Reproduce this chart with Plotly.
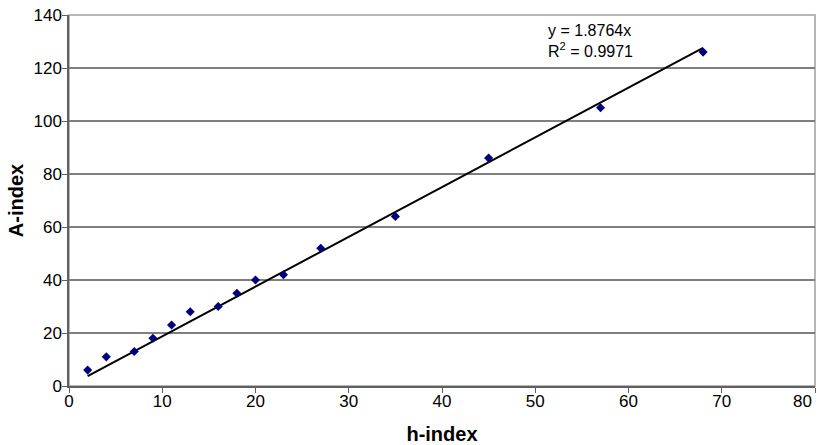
import plotly.graph_objects as go

h_index = [2, 4, 7, 9, 11, 13, 16, 18, 20, 23, 27, 35, 45, 57, 68]
a_index = [6, 11, 13, 18, 23, 28, 30, 35, 40, 42, 52, 64, 86, 105, 126]
slope = 1.8764
r2 = 0.9971

x_ticks = [0, 10, 20, 30, 40, 50, 60, 70, 80]
x_tick_labels = ["0", "10", "20", "30", "40", "50", "60", "70", ""]
last_x_label = "80"
y_ticks = [0, 20, 40, 60, 80, 100, 120, 140]

trend_x = [min(h_index), max(h_index)]
trend_y = [slope * v for v in trend_x]

font = "Liberation Sans, Arial, sans-serif"

fig = go.Figure()
fig.add_trace(go.Scatter(x=trend_x, y=trend_y, mode="lines",
                         line=dict(color="black", width=2), showlegend=False,
                         hoverinfo="skip"))
fig.add_trace(go.Scatter(x=h_index, y=a_index, mode="markers",
                         marker=dict(symbol="diamond", size=7, color="#00007f"),
                         showlegend=False))

fig.add_annotation(x=0.639, y=0.987, xref="paper", yref="paper",
                   xanchor="left", yanchor="top", align="left", showarrow=False,
                   text=f"y = {slope}x<br>R<sup>2</sup> = {r2}",
                   font=dict(family=font, size=16, color="black"))

# last x tick label, pulled inside the figure edge as in the original
fig.add_annotation(x=x_ticks[-1], y=0, xref="x", yref="paper",
                   xanchor="right", yanchor="top", showarrow=False,
                   xshift=-1, yshift=-4, text=last_x_label,
                   font=dict(family=font, size=17, color="black"))

fig.add_shape(type="rect", xref="paper", yref="paper", x0=0, y0=0, x1=1, y1=1,
              line=dict(color="#a0a0a0", width=1.5), layer="below")

fig.update_layout(
    width=822, height=445,
    margin=dict(l=69, r=7, t=15, b=59),
    plot_bgcolor="white", paper_bgcolor="white",
    font=dict(family=font, size=17, color="black"),
)
fig.update_xaxes(range=[0, 80], tickvals=x_ticks, ticktext=x_tick_labels,
                 showgrid=False,
                 showline=True, linecolor="#606060", linewidth=1.5,
                 ticks="outside", ticklen=5, tickcolor="#606060",
                 tickfont=dict(family=font, size=17), ticklabelstandoff=-6,
                 zeroline=False, automargin=False,
                 title=dict(text="<b>h-index</b>", font=dict(size=20), standoff=17))
fig.update_yaxes(range=[0, 140], tickvals=y_ticks, showgrid=True,
                 gridcolor="#7f7f7f", gridwidth=1.5,
                 showline=True, linecolor="#606060", linewidth=1.5,
                 ticks="outside", ticklen=5, tickcolor="#606060",
                 tickfont=dict(family=font, size=17), ticklabelstandoff=-3,
                 zeroline=False, automargin=False, ticklabeloverflow="allow",
                 title=dict(text="<b>A-index</b>", font=dict(size=20), standoff=4))

fig.write_html("out.html", config={"displayModeBar": False},
               post_script="document.body.style.margin='0';document.body.style.padding='0';")
